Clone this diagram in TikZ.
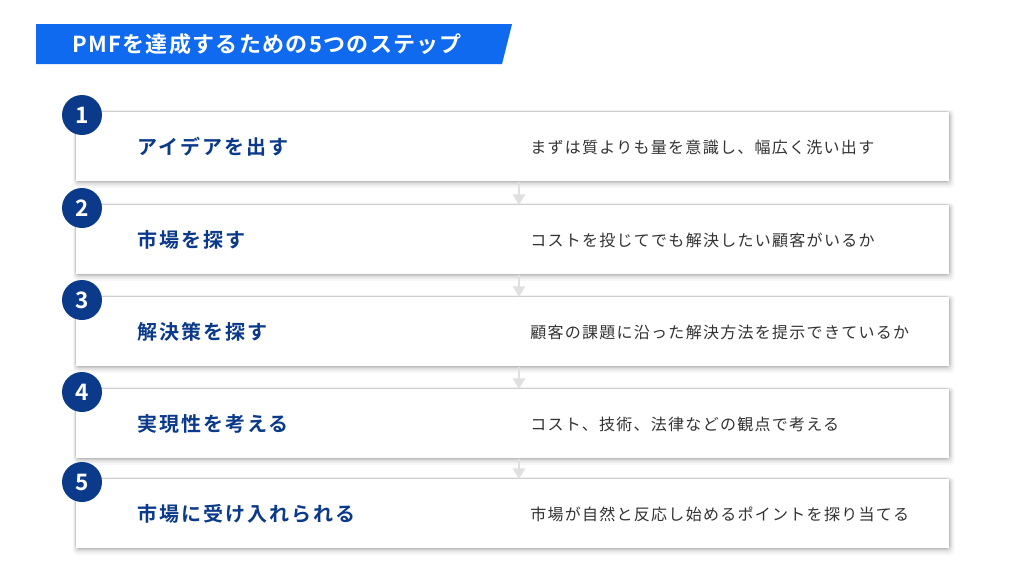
\documentclass[tikz,border=0pt]{standalone}
\usepackage{fontspec}
\setmainfont{Noto Sans CJK JP}[BoldFont=Noto Sans CJK JP Bold]
\newfontfamily\titlefont[LetterSpace=6]{Noto Sans CJK JP Bold}
\newfontfamily\headfont[LetterSpace=10]{Noto Sans CJK JP Bold}
\newfontfamily\numfont{Noto Sans CJK JP Bold}
\newfontfamily\descfont[LetterSpace=8]{Noto Sans CJK JP}
\usetikzlibrary{arrows.meta}
\definecolor{titleblue}{HTML}{0F6AEF}
\definecolor{darkblue}{HTML}{0B3A8A}
\definecolor{textgray}{HTML}{333333}
\definecolor{arrowgray}{HTML}{E0E0E0}
\tikzset{
  card/.style={fill=white, minimum width=654.75pt, minimum height=51.75pt, anchor=north west, inner sep=0pt},
  numcircle/.style={circle, fill=darkblue, minimum size=30pt, inner sep=0pt, text=white, font=\numfont\fontsize{17}{17}\selectfont},
  head/.style={anchor=west, text=darkblue, font=\headfont\fontsize{15}{15}\selectfont, inner sep=0pt},
  desc/.style={anchor=west, text=textgray, font=\descfont\fontsize{12}{12}\selectfont, inner sep=0pt},
  flow/.style={arrowgray, line width=2pt, -{Triangle[width=9pt,length=8pt]}}
}
\begin{document}
\begin{tikzpicture}[x=0.75pt,y=-0.75pt]
\useasboundingbox (0,0) rectangle (1024,575);
\fill[white] (0,0) rectangle (1024,575);

\fill[titleblue] (36,24) -- (512,24) -- (502,64) -- (36,64) -- cycle;
\node[anchor=west, text=white, font=\titlefont\fontsize{16.5}{16.5}\selectfont, inner sep=0pt] (title) at (72,44) {PMFを達成するための5つのステップ};

\coordinate (ax) at (519,0);

\foreach \i/\y in {1/112,2/205,3/297,4/389,5/479}{
  \foreach \s/\o in {7/0.03,5/0.04,3.5/0.05,2/0.07,1/0.09}{
    \fill[black, opacity=\o, rounded corners=3pt] (76-\s*0.4,\y-\s*0.3) rectangle (949+\s*0.8,\y+69+\s);
  }
  \node[card] (c\i) at (76,\y) {};
}

\foreach \a/\b in {1/2,2/3,3/4,4/5}{
  \draw[flow] (c\a.south -| ax) -- (c\b.north -| ax);
}

\foreach \i/\y/\h/\d in {
  1/112/アイデアを出す/まずは質よりも量を意識し、幅広く洗い出す,
  2/205/市場を探す/コストを投じてでも解決したい顧客がいるか,
  3/297/解決策を探す/顧客の課題に沿った解決方法を提示できているか,
  4/389/実現性を考える/コスト、技術、法律などの観点で考える,
  5/479/市場に受け入れられる/市場が自然と反応し始めるポイントを探り当てる}{
  \node[numcircle] (n\i) at (82,\y+3) {\i};
  \node[head] (h\i) at (137,\y+35) {\h};
  \node[desc] (d\i) at (530,\y+35) {\d};
}

\end{tikzpicture}
\end{document}
